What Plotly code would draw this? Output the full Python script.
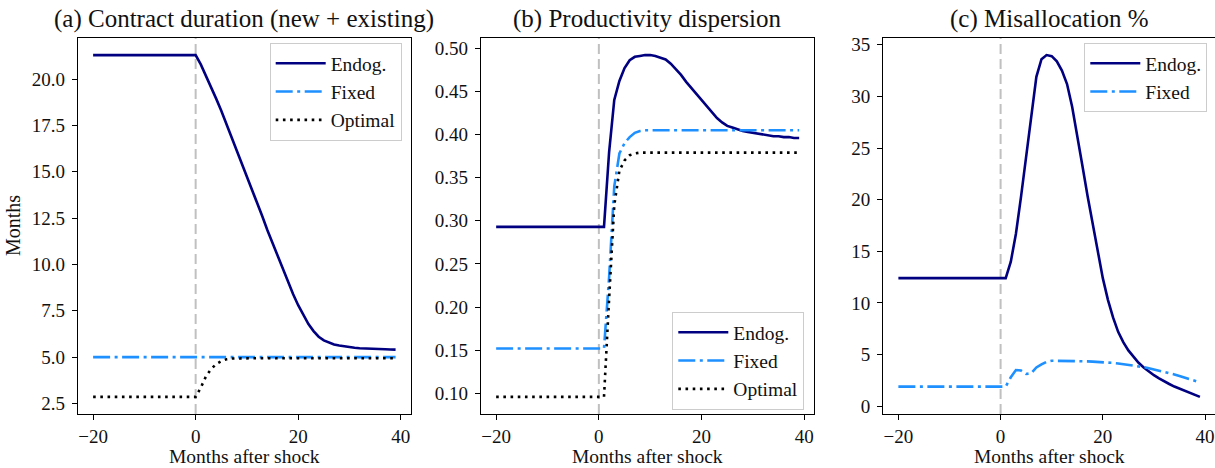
import plotly.graph_objects as go

# ---------------- data ----------------
months = list(range(-20, 40))

endog_duration = [21.3, 21.3, 21.3, 21.3, 21.3, 21.3, 21.3, 21.3, 21.3, 21.3,
                  21.3, 21.3, 21.3, 21.3, 21.3, 21.3, 21.3, 21.3, 21.3, 21.3,
                  21.3, 20.8, 20.2, 19.6, 18.95, 18.3, 17.6, 16.9, 16.2, 15.45,
                  14.75, 14.05, 13.33, 12.6, 11.85, 11.15, 10.45, 9.75, 9.05, 8.4,
                  7.8, 7.25, 6.78, 6.4, 6.1, 5.9, 5.78, 5.68, 5.62, 5.57,
                  5.53, 5.5, 5.48, 5.46, 5.45, 5.44, 5.43, 5.42, 5.41, 5.4]
fixed_duration = [5.0, 5.0, 5.0, 5.0, 5.0, 5.0, 5.0, 5.0, 5.0, 5.0,
                  5.0, 5.0, 5.0, 5.0, 5.0, 5.0, 5.0, 5.0, 5.0, 5.0,
                  5.0, 5.0, 5.0, 5.0, 5.0, 5.0, 5.0, 5.0, 5.0, 5.0,
                  5.0, 5.0, 5.0, 5.0, 5.0, 5.0, 5.0, 5.0, 5.0, 5.0,
                  5.0, 5.0, 5.0, 5.0, 5.0, 5.0, 5.0, 5.0, 5.0, 5.0,
                  5.0, 5.0, 5.0, 5.0, 5.0, 5.0, 5.0, 5.0, 5.0, 5.0]
optimal_duration = [2.85, 2.85, 2.85, 2.85, 2.85, 2.85, 2.85, 2.85, 2.85, 2.85,
                    2.85, 2.85, 2.85, 2.85, 2.85, 2.85, 2.85, 2.85, 2.85, 2.85,
                    2.85, 3.35, 3.95, 4.35, 4.62, 4.78, 4.88, 4.92, 4.93, 4.94,
                    4.94, 4.94, 4.94, 4.94, 4.94, 4.94, 4.94, 4.94, 4.94, 4.94,
                    4.94, 4.94, 4.94, 4.94, 4.94, 4.94, 4.94, 4.94, 4.94, 4.94,
                    4.94, 4.94, 4.94, 4.94, 4.94, 4.94, 4.94, 4.94, 4.94, 4.94]

endog_dispersion = [0.293, 0.293, 0.293, 0.293, 0.293, 0.293, 0.293, 0.293, 0.293, 0.293,
                    0.293, 0.293, 0.293, 0.293, 0.293, 0.293, 0.293, 0.293, 0.293, 0.293,
                    0.293, 0.293, 0.38, 0.44, 0.462, 0.477, 0.486, 0.49, 0.491, 0.492,
                    0.492, 0.491, 0.489, 0.487, 0.482, 0.476, 0.469, 0.461, 0.454, 0.446,
                    0.439, 0.432, 0.425, 0.419, 0.414, 0.41, 0.408, 0.406, 0.404, 0.403,
                    0.402, 0.401, 0.4, 0.399, 0.398, 0.398, 0.397, 0.397, 0.396, 0.396]
fixed_dispersion = [0.152, 0.152, 0.152, 0.152, 0.152, 0.152, 0.152, 0.152, 0.152, 0.152,
                    0.152, 0.152, 0.152, 0.152, 0.152, 0.152, 0.152, 0.152, 0.152, 0.152,
                    0.152, 0.152, 0.235, 0.34, 0.378, 0.39, 0.397, 0.402, 0.404, 0.405,
                    0.405, 0.405, 0.405, 0.405, 0.405, 0.405, 0.405, 0.405, 0.405, 0.405,
                    0.405, 0.405, 0.405, 0.405, 0.405, 0.405, 0.405, 0.405, 0.405, 0.405,
                    0.405, 0.405, 0.405, 0.405, 0.405, 0.405, 0.405, 0.405, 0.405, 0.405]
optimal_dispersion = [0.096, 0.096, 0.096, 0.096, 0.096, 0.096, 0.096, 0.096, 0.096, 0.096,
                      0.096, 0.096, 0.096, 0.096, 0.096, 0.096, 0.096, 0.096, 0.096, 0.096,
                      0.096, 0.096, 0.21, 0.318, 0.358, 0.37, 0.376, 0.378, 0.379, 0.379,
                      0.379, 0.379, 0.379, 0.379, 0.379, 0.379, 0.379, 0.379, 0.379, 0.379,
                      0.379, 0.379, 0.379, 0.379, 0.379, 0.379, 0.379, 0.379, 0.379, 0.379,
                      0.379, 0.379, 0.379, 0.379, 0.379, 0.379, 0.379, 0.379, 0.379, 0.379]

endog_misalloc = [12.4, 12.4, 12.4, 12.4, 12.4, 12.4, 12.4, 12.4, 12.4, 12.4,
                  12.4, 12.4, 12.4, 12.4, 12.4, 12.4, 12.4, 12.4, 12.4, 12.4,
                  12.4, 12.4, 14.0, 16.7, 20.3, 24.3, 28.4, 31.9, 33.6, 34.0,
                  33.9, 33.4, 32.5, 31.2, 29.0, 26.3, 23.3, 20.4, 17.6, 15.0,
                  12.4, 10.3, 8.6, 7.2, 6.2, 5.4, 4.75, 4.2, 3.75, 3.35,
                  3.0, 2.7, 2.4, 2.15, 1.9, 1.7, 1.5, 1.3, 1.1, 0.9]
fixed_misalloc = [1.9, 1.9, 1.9, 1.9, 1.9, 1.9, 1.9, 1.9, 1.9, 1.9,
                  1.9, 1.9, 1.9, 1.9, 1.9, 1.9, 1.9, 1.9, 1.9, 1.9,
                  1.9, 1.9, 2.8, 3.5, 3.45, 3.12, 3.2, 3.75, 4.05, 4.3,
                  4.4, 4.4, 4.39, 4.38, 4.37, 4.36, 4.35, 4.34, 4.32, 4.3,
                  4.27, 4.23, 4.19, 4.14, 4.08, 4.02, 3.95, 3.87, 3.78, 3.68,
                  3.57, 3.45, 3.33, 3.2, 3.07, 2.93, 2.79, 2.65, 2.5, 2.3]

titles = ["(a) Contract duration (new + existing)", "(b) Productivity dispersion", "(c) Misallocation %"]
x_tickvals = [-20, 0, 20, 40]
x_ticktext = ["\u221220", "0", "20", "40"]
y_ticks_a = [2.5, 5.0, 7.5, 10.0, 12.5, 15.0, 17.5, 20.0]
y_ticks_b = [0.10, 0.15, 0.20, 0.25, 0.30, 0.35, 0.40, 0.45, 0.50]
y_ticks_c = [0, 5, 10, 15, 20, 25, 30, 35]

# ---------------- styling ----------------
W, H = 1215, 468
FONT = "Liberation Serif"
TXT = "#111111"
NAVY = "#000080"
BLUE = "#1E90FF"
LW = 2.6
DASHDOT = "17px,4.5px,3px,4.5px"
DOT = "2.6px,4.6px"

def px_x(p):
    return p / W

def px_y(p):
    return 1 - p / H

dom_x = [[px_x(78), px_x(410.7)], [px_x(481), px_x(814.3)], [px_x(883.3), 1.0]]
dom_y = [px_y(414), px_y(38)]

def margin_range(*series):
    lo = min(min(s) for s in series)
    hi = max(max(s) for s in series)
    pad = 0.05 * (hi - lo)
    return [lo - pad, hi + pad]

x_range = [-20 - 0.05 * 59, 39 + 0.05 * 59]

fig = go.Figure()

panels = [
    (endog_duration, fixed_duration, optimal_duration, "legend"),
    (endog_dispersion, fixed_dispersion, optimal_dispersion, "legend2"),
    (endog_misalloc, fixed_misalloc, None, "legend3"),
]

for i, (en, fx, op, lg) in enumerate(panels):
    xa = "x" if i == 0 else f"x{i+1}"
    ya = "y" if i == 0 else f"y{i+1}"
    fig.add_trace(go.Scatter(x=months, y=en, mode="lines", name="Endog.",
                             line=dict(color=NAVY, width=LW), xaxis=xa, yaxis=ya, legend=lg))
    fig.add_trace(go.Scatter(x=months, y=fx, mode="lines", name="Fixed",
                             line=dict(color=BLUE, width=LW, dash=DASHDOT), xaxis=xa, yaxis=ya, legend=lg))
    if op is not None:
        fig.add_trace(go.Scatter(x=months, y=op, mode="lines", name="Optimal",
                                 line=dict(color="black", width=LW, dash=DOT), xaxis=xa, yaxis=ya, legend=lg))
    fig.add_shape(type="line", xref=xa, yref=f"{ya} domain", x0=0, x1=0, y0=0, y1=1,
                  line=dict(color="#c0c0c0", width=2, dash="10px,5px"), layer="below")

axis_common = dict(showline=True, linecolor="black", linewidth=1.3, mirror=True,
                   ticks="outside", ticklen=5, tickwidth=1.2, tickcolor="black",
                   showgrid=False, zeroline=False,
                   tickfont=dict(family=FONT, size=19, color=TXT))

yr = [margin_range(endog_duration, fixed_duration, optimal_duration),
      margin_range(endog_dispersion, fixed_dispersion, optimal_dispersion),
      margin_range(endog_misalloc, fixed_misalloc)]
yticks = [(y_ticks_a, [f"{v:.1f}" for v in y_ticks_a]),
          (y_ticks_b, [f"{v:.2f}" for v in y_ticks_b]),
          (y_ticks_c, [str(v) for v in y_ticks_c])]

layout_axes = {}
for i in range(3):
    xk = "xaxis" if i == 0 else f"xaxis{i+1}"
    yk = "yaxis" if i == 0 else f"yaxis{i+1}"
    ya = "y" if i == 0 else f"y{i+1}"
    xa = "x" if i == 0 else f"x{i+1}"
    layout_axes[xk] = dict(axis_common, domain=dom_x[i], range=x_range, anchor=ya,
                           tickvals=x_tickvals, ticktext=x_ticktext, ticklabelstandoff=0)
    layout_axes[yk] = dict(axis_common, domain=dom_y, range=yr[i], anchor=xa,
                           tickvals=yticks[i][0], ticktext=yticks[i][1], ticklabelstandoff=3)

legend_common = dict(bgcolor="rgba(255,255,255,0.85)", bordercolor="#cccccc", borderwidth=1,
                     font=dict(family=FONT, size=19.5, color=TXT),
                     tracegroupgap=0, itemwidth=50, xanchor="right", yanchor="top")

fig.update_layout(
    width=W, height=H,
    margin=dict(l=0, r=0, t=0, b=0, autoexpand=False),
    paper_bgcolor="white", plot_bgcolor="white",
    font=dict(family=FONT, color=TXT),
    showlegend=True,
    legend=dict(legend_common, x=px_x(401.7), y=px_y(43)),
    legend2=dict(legend_common, x=px_x(804.3), y=px_y(312)),
    legend3=dict(legend_common, x=px_x(1207.3), y=px_y(43)),
    **layout_axes,
)

annotations = []
for i in range(3):
    cx = (dom_x[i][0] + dom_x[i][1]) / 2
    if i == 2:
        cx = (px_x(883.3) + px_x(1216)) / 2
    annotations.append(dict(text=titles[i], x=cx, y=px_y(19), xref="paper", yref="paper",
                            xanchor="center", yanchor="middle", showarrow=False,
                            font=dict(family=FONT, size=25, color=TXT)))
    annotations.append(dict(text="Months after shock", x=cx, y=0, xref="paper", yref="paper",
                            xanchor="center", yanchor="bottom", showarrow=False, borderpad=0,
                            font=dict(family=FONT, size=19.5, color=TXT)))
annotations.append(dict(text="Months", x=px_x(13), y=px_y(226), xref="paper", yref="paper",
                        xanchor="center", yanchor="middle", showarrow=False, textangle=-90,
                        font=dict(family=FONT, size=20, color=TXT)))
fig.update_layout(annotations=annotations)

fig.write_html("out.html",
               config={"displayModeBar": False},
               post_script="document.body.style.margin='0';document.body.style.padding='0';"
                           "document.body.style.overflow='hidden';")
